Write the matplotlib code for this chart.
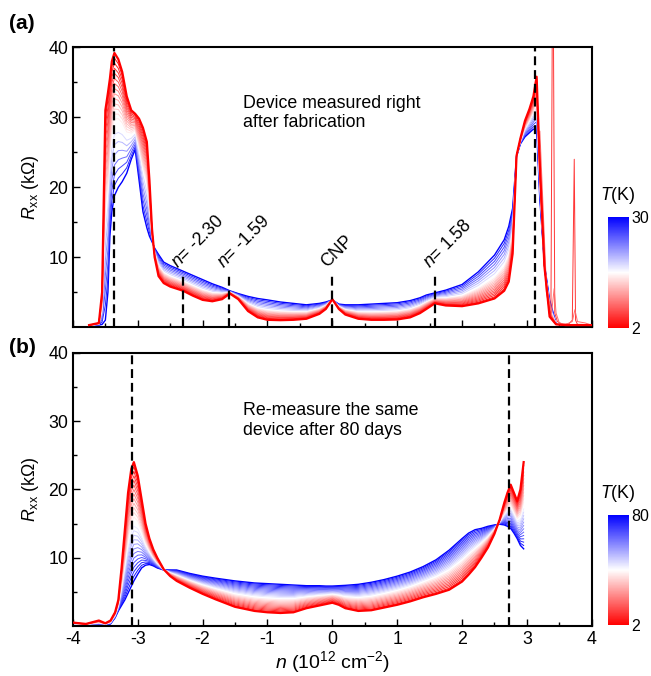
import numpy as np
import matplotlib
matplotlib.use("Agg")
import matplotlib.pyplot as plt
from matplotlib import cm, colors

plt.rcParams['font.family'] = ['Liberation Sans', 'DejaVu Sans']
plt.rcParams['mathtext.fontset'] = 'custom'
plt.rcParams['mathtext.rm'] = 'Liberation Sans'
plt.rcParams['mathtext.it'] = 'Liberation Sans:italic'
plt.rcParams['axes.unicode_minus'] = False

# (a) device right after fabrication: coldest (2 K) and hottest (30 K) traces
n_a = [-3.75, -3.6, -3.55, -3.5, -3.46, -3.43, -3.4, -3.36, -3.3, -3.24, -3.17, -3.1,
       -3.04, -2.98, -2.92, -2.86, -2.82, -2.78, -2.74, -2.68, -2.6, -2.5, -2.4, -2.3,
       -2.15, -2.0, -1.85, -1.7, -1.58, -1.45, -1.3, -1.15, -1.0, -0.8, -0.6, -0.4,
       -0.2, -0.1, 0.0, 0.1, 0.2, 0.4, 0.6, 0.8, 1.0, 1.2, 1.35, 1.45, 1.58, 1.75,
       2.0, 2.25, 2.5, 2.65, 2.72, 2.78, 2.84, 2.9, 2.97, 3.04, 3.1, 3.15, 3.2, 3.27,
       3.35, 3.45, 3.6, 3.8, 4.0]
r_a_cold = [0.3, 0.6, 5, 31, 33.5, 35.5, 38, 39.2, 38.3, 36.5, 33, 31,
            30.5, 29.8, 28.5, 26.5, 21, 14, 10, 7.3, 6.3, 5.8, 5.5, 5.2,
            4.5, 3.9, 3.7, 4.0, 4.8, 4.0, 2.3, 1.4, 1.05, 1.0, 1.05, 1.2,
            1.9, 2.6, 4.0, 2.6, 1.8, 1.2, 1.05, 1.05, 1.1, 1.4, 2.0, 2.6, 3.4, 3.1,
            3.0, 3.4, 4.1, 5.2, 6.5, 10.5, 24.5, 27, 29.5, 31.2, 33, 35.8, 23, 8.7,
            1.5, 0.4, 0.3, 0.3, 0.3]
r_a_hot = [0.2, 0.3, 0.4, 1.0, 5, 13, 16.5, 18.8, 20, 20.8, 22, 24,
           25.4, 21, 16.5, 14.2, 13, 12.2, 11.3, 10.4, 9.3, 8.8, 8.4, 8.0,
           7.4, 6.8, 6.2, 5.7, 5.2, 4.8, 4.4, 4.1, 3.9, 3.6, 3.4, 3.2,
           3.4, 3.6, 3.9, 3.3, 3.2, 3.2, 3.3, 3.4, 3.5, 3.8, 4.2, 4.6, 4.9, 5.3,
           6.1, 7.9, 10.3, 12.5, 14.4, 17, 24.4, 26.2, 27.2, 27.8, 28.3, 28.3, 18.2, 9,
           3.9, 0.5, 0.3, 0.3, 0.3]
temps_a = [2, 3, 4, 5, 6, 7, 8, 9, 10, 11, 12, 13, 14, 15, 16, 18, 20, 22, 24, 26, 28, 30]

# narrow spikes beyond the right peak (two of the low-T traces)
spike1_n = [3.2, 3.3, 3.37, 3.40, 3.43, 3.47, 3.55, 3.65, 3.70, 3.73, 3.75, 3.78, 3.85, 4.0]
spike1_r = [25, 5, 1.5, 60, 2, 0.8, 0.4, 0.5, 1.0, 24, 1.0, 0.4, 0.4, 0.3]
spike2_n = [3.2, 3.3, 3.38, 3.42, 3.45, 3.5, 3.6, 3.7, 3.74, 3.78, 3.9, 4.0]
spike2_r = [28, 6, 2, 5.5, 2, 0.6, 0.4, 0.8, 2.5, 0.8, 0.6, 0.3]
spike_temps = [5, 8]

# (b) same device after 80 days: 2 K and 80 K traces
n_b = [-4.0, -3.8, -3.6, -3.5, -3.42, -3.35, -3.3, -3.25, -3.2, -3.15, -3.1, -3.06,
       -3.0, -2.94, -2.88, -2.82, -2.76, -2.7, -2.6, -2.5, -2.4, -2.2, -2.0, -1.8,
       -1.5, -1.2, -1.0, -0.8, -0.6, -0.4, -0.2, -0.1, 0.0, 0.1, 0.2, 0.4, 0.6, 0.8,
       1.0, 1.2, 1.4, 1.6, 1.8, 2.0, 2.1, 2.2, 2.3, 2.4, 2.5, 2.58, 2.65, 2.7, 2.75,
       2.8, 2.85, 2.9, 2.95]
r_b_cold = [0.5, 0.3, 0.8, 0.4, 0.8, 2.0, 3.8, 8.5, 14, 19.5, 23, 24,
            22, 18.5, 15, 12.8, 11.2, 10, 8.3, 7.3, 6.6, 5.6, 4.7, 3.9,
            2.8, 2.2, 2.0, 1.9, 2.0, 2.6, 3.0, 3.2, 3.4, 3.1, 2.6, 2.2, 2.3, 2.7,
            3.1, 3.6, 4.2, 4.7, 5.3, 6.5, 7.5, 8.6, 10, 11.5, 13.5, 15.6, 18, 19.5, 20.7,
            19.5, 18.3, 20, 24]
r_b_hot = [0.2, 0.2, 0.2, 0.2, 0.3, 1.2, 2.2, 3.0, 3.8, 4.8, 5.8, 6.6,
           7.6, 8.5, 8.9, 9.0, 8.8, 8.5, 8.2, 8.2, 8.2, 7.7, 7.3, 7.0,
           6.6, 6.3, 6.2, 6.1, 6.0, 5.9, 5.9, 5.85, 5.85, 5.9, 5.95, 6.1, 6.4, 6.8,
           7.3, 7.9, 8.7, 9.7, 11.1, 12.8, 13.6, 14.1, 14.3, 14.6, 14.8, 14.9, 14.8, 14.6, 14.3,
           13.6, 12.8, 11.8, 11.3]
temps_b = [2, 5, 8, 11, 14, 17, 20, 23, 26, 29, 32, 35, 38, 41, 44, 47, 50, 53, 56,
           59, 62, 65, 68, 71, 74, 77, 80]

# marked densities
full_lines_a = [-3.36, 3.13]
short_lines_a = [-2.30, -1.59, 0.0, 1.58]
short_labels_a = ['$n$= -2.30', '$n$= -1.59', 'CNP', '$n$= 1.58']
full_lines_b = [-3.09, 2.73]

cmap = plt.get_cmap('bwr_r')
fs = 12.8

fig = plt.figure(figsize=(6.51, 6.76), dpi=100)
ax_a = fig.add_axes([0.112, 0.516, 0.797, 0.414])
ax_b = fig.add_axes([0.112, 0.074, 0.797, 0.404])
cax_a = fig.add_axes([0.934, 0.515, 0.032, 0.164])
cax_b = fig.add_axes([0.934, 0.0754, 0.032, 0.163])


def draw_family(ax, n, cold, hot, temps, norm):
    cold = np.array(cold)
    hot = np.array(hot)
    tmin, tmax = temps[0], temps[-1]
    for T in temps[::-1]:
        w = (T - tmin) / (tmax - tmin)
        lw = 1.6 if T == tmin else (1.0 if T == tmax else 0.7)
        ax.plot(n, (1 - w) * cold + w * hot, color=cmap(norm(T)), lw=lw,
                zorder=3 if T == tmin else 2)


norm_a = colors.Normalize(2, 30)
norm_b = colors.Normalize(2, 80)

draw_family(ax_a, n_a, r_a_cold, r_a_hot, temps_a, norm_a)
ax_a.plot(spike1_n, spike1_r, color=cmap(norm_a(spike_temps[0])), lw=0.7, zorder=2)
ax_a.plot(spike2_n, spike2_r, color=cmap(norm_a(spike_temps[1])), lw=0.7, zorder=2)
draw_family(ax_b, n_b, r_b_cold, r_b_hot, temps_b, norm_b)

for x in full_lines_a:
    ax_a.plot([x, x], [0, 40], color='k', ls=(0, (4, 2.2)), lw=1.6, zorder=4)
for x, lab in zip(short_lines_a, short_labels_a):
    ax_a.plot([x, x], [0, 7.6], color='k', ls=(0, (4, 2.2)), lw=1.6, zorder=4)
    ax_a.text(x - 0.08, 8.4, lab, rotation=45, rotation_mode='anchor',
              ha='left', va='baseline', fontsize=fs)
for x in full_lines_b:
    ax_b.plot([x, x], [0, 40], color='k', ls=(0, (4, 2.2)), lw=1.6, zorder=4)

ax_a.text(-1.38, 30.6, 'Device measured right\nafter fabrication', fontsize=fs,
          ha='left', va='center', linespacing=1.2)
ax_b.text(-1.38, 30.1, 'Re-measure the same\ndevice after 80 days', fontsize=fs,
          ha='left', va='center', linespacing=1.2)

for ax in (ax_a, ax_b):
    ax.set_xlim(-4, 4)
    ax.set_ylim(0, 40)
    ax.set_yticks([10, 20, 30, 40])
    ax.set_yticks([5, 15, 25, 35], minor=True)
    ax.set_xticks(range(-4, 5))
    ax.set_xticks(np.arange(-3.5, 4, 1.0), minor=True)
    ax.tick_params(which='both', direction='in', top=False, right=False,
                   labelsize=fs, width=1.0)
    ax.tick_params(which='major', length=5)
    ax.tick_params(which='minor', length=3)
    for s in ax.spines.values():
        s.set_linewidth(1.5)
    ax.set_ylabel(r'$R_{\rm xx}$ (k$\Omega$)', fontsize=fs, labelpad=5)

ax_a.tick_params(labelbottom=False)
ax_b.set_xlabel(r'$n$ (10$^{12}$ cm$^{-2}$)', fontsize=14, labelpad=1)

fig.text(0.014, 0.957, '(a)', fontsize=15, fontweight='bold')
fig.text(0.014, 0.478, '(b)', fontsize=15, fontweight='bold')

for cax, norm, top in ((cax_a, norm_a, 30), (cax_b, norm_b, 80)):
    cb = fig.colorbar(cm.ScalarMappable(norm=norm, cmap=cmap), cax=cax)
    cb.outline.set_visible(False)
    cb.set_ticks([2, top])
    cb.ax.tick_params(length=0, labelsize=11.5, pad=2)
    cax.text(0.45, 1.1, '$T$(K)', transform=cax.transAxes, ha='center',
             va='bottom', fontsize=fs)

plt.savefig("out.png", dpi=100)
